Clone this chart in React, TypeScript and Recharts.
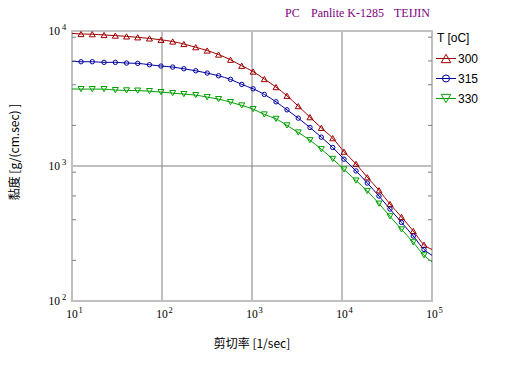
import React from 'react';
import {
  LineChart,
  Line,
  XAxis,
  YAxis,
  CartesianGrid,
  ReferenceArea,
  Label,
} from 'recharts';

// 剪切率 (1/sec) at each measured point
const shearRate = [
  12.6, 16.8, 22.7, 30.3, 40.4, 53.7, 72.6, 97.5, 131.5, 175, 237, 318, 425, 577, 769, 1030,
  1371, 1849, 2449, 3266, 4406, 5888, 7889, 10520, 14320, 19100, 25760, 34120, 45810, 61940, 81470,
];

// 黏度 g/(cm.sec)
const eta300 = [
  9500, 9470, 9340, 9245, 9120, 8980, 8812, 8604, 8357, 8008, 7583, 7167, 6692, 6124, 5527, 5004,
  4405, 3841, 3310, 2776, 2300, 1916, 1607, 1277, 1036, 825, 661, 523, 419, 330, 261,
];
const eta315 = [
  5920, 5920, 5858, 5858, 5788, 5759, 5622, 5499, 5405, 5251, 5075, 4879, 4659, 4381, 4023, 3731,
  3390, 2988, 2606, 2262, 1929, 1635, 1371, 1124, 919, 748, 599, 480, 382, 303, 241,
];
const eta330 = [
  3712, 3712, 3712, 3649, 3631, 3617, 3586, 3525, 3466, 3408, 3350, 3237, 3129, 2973, 2809, 2638,
  2409, 2235, 1997, 1771, 1553, 1331, 1128, 943, 780, 653, 526, 424, 339, 272, 218,
];

// fitted curve ends at 10 and 1e5 1/sec
const curveStart = [9600, 5950, 3720];
const curveEnd = [241, 218, 195];

const temps = ['300', '315', '330'];
const colors = ['#a00000', '#0000a0', '#00a000'];
const shapes = ['up', 'circle', 'down'];

const majorX = [10, 100, 1000, 10000, 100000];
const majorY = [100, 1000, 10000];
const minorX = [
  20, 30, 40, 50, 60, 70, 80, 90, 200, 300, 400, 500, 600, 700, 800, 900, 2000, 3000, 4000, 5000,
  6000, 7000, 8000, 9000, 20000, 30000, 40000, 50000, 60000, 70000, 80000, 90000,
];
const minorY = [200, 300, 400, 500, 600, 700, 800, 900, 2000, 3000, 4000, 5000, 6000, 7000, 8000, 9000];

const SERIF = '"Liberation Serif", "Times New Roman", serif';
const SANS = '"Liberation Sans", Arial, sans-serif';
const CJK = '"Noto Sans CJK TC", "Noto Sans CJK SC", sans-serif';

const makeCurve = (ys: number[], i: number) => [
  { x: 10, y: curveStart[i], end: true },
  ...shearRate.map((x, k) => ({ x, y: ys[k], end: false })),
  { x: 100000, y: curveEnd[i], end: true },
];

const series = [eta300, eta315, eta330].map((ys, i) => ({
  name: temps[i],
  color: colors[i],
  shape: shapes[i],
  data: makeCurve(ys, i),
}));

function Marker({ cx, cy, shape, color, size = 1 }: any) {
  if (shape === 'circle') {
    return <circle cx={cx} cy={cy} r={2.2 * size} fill="none" stroke={color} strokeWidth={1} />;
  }
  const w = 3 * size;
  const h = 2.6 * size;
  const pts =
    shape === 'up'
      ? `${cx - w},${cy + h} ${cx + w},${cy + h} ${cx},${cy - h}`
      : `${cx - w},${cy - h} ${cx + w},${cy - h} ${cx},${cy + h}`;
  return <polygon points={pts} fill="none" stroke={color} strokeWidth={1} />;
}

const XPowTick = ({ x, y, payload }: any) => {
  const e = Math.round(Math.log10(payload.value));
  return (
    <g>
      <text x={x} y={y + 16.5} textAnchor="middle" fontFamily={SERIF} fontSize={11.5} fill="#000">
        10
      </text>
      <text x={x + 6.5} y={y + 11.5} fontFamily={SERIF} fontSize={8.5} fill="#000">
        {e}
      </text>
    </g>
  );
};

const YPowTick = ({ x, y, payload }: any) => {
  const e = Math.round(Math.log10(payload.value));
  return (
    <g>
      <text x={x - 12} y={y + 3.5} textAnchor="end" fontFamily={SERIF} fontSize={11.5} fill="#000">
        10
      </text>
      <text x={x - 10} y={y - 1.5} fontFamily={SERIF} fontSize={8.5} fill="#000">
        {e}
      </text>
    </g>
  );
};

const Blank = () => <g />;

const XTitle = ({ viewBox }: any) => {
  const cx = viewBox.x + viewBox.width / 2;
  return (
    <text x={cx} y={viewBox.y + 47} textAnchor="middle" fontFamily={CJK} fontSize={12} fill="#000">
      剪切率 [1/sec]
    </text>
  );
};

const YTitle = ({ viewBox }: any) => {
  const cx = viewBox.x + 13;
  const cy = viewBox.y + viewBox.height / 2 - 14;
  return (
    <text
      x={cx}
      y={cy}
      transform={`rotate(-90 ${cx} ${cy})`}
      textAnchor="middle"
      dominantBaseline="central"
      fontFamily={CJK}
      fontSize={12}
      fill="#000"
    >
      黏度 [g/(cm.sec) ]
    </text>
  );
};

export default function App() {
  return (
    <div style={{ position: 'absolute', left: 0, top: 0, width: 515, height: 370, background: '#fff' }}>
      <LineChart width={515} height={370} margin={{ top: 31, right: 83, bottom: 0, left: 0 }}>
        <CartesianGrid stroke="#808080" strokeWidth={1} />
        <XAxis
          dataKey="x"
          type="number"
          scale="log"
          domain={[10, 100000]}
          ticks={majorX}
          allowDataOverflow
          height={69}
          tickSize={0}
          tickMargin={0}
          axisLine={false}
          tickLine={false}
          tick={<XPowTick />}
        >
          <Label content={<XTitle />} />
        </XAxis>
        <XAxis
          xAxisId="minB"
          type="number"
          scale="log"
          domain={[10, 100000]}
          ticks={minorX}
          allowDataOverflow
          orientation="bottom"
          mirror
          height={10}
          tickSize={4}
          axisLine={false}
          tickLine={{ stroke: '#808080' }}
          tick={<Blank />}
        />
        <XAxis
          xAxisId="minT"
          type="number"
          scale="log"
          domain={[10, 100000]}
          ticks={minorX}
          allowDataOverflow
          orientation="top"
          mirror
          height={10}
          tickSize={4}
          axisLine={false}
          tickLine={{ stroke: '#808080' }}
          tick={<Blank />}
        />
        <YAxis
          type="number"
          scale="log"
          domain={[100, 10000]}
          ticks={majorY}
          allowDataOverflow
          width={72}
          tickSize={0}
          tickMargin={0}
          axisLine={false}
          tickLine={false}
          tick={<YPowTick />}
        >
          <Label content={<YTitle />} />
        </YAxis>
        <YAxis
          yAxisId="minL"
          type="number"
          scale="log"
          domain={[100, 10000]}
          ticks={minorY}
          allowDataOverflow
          orientation="left"
          mirror
          width={10}
          tickSize={4}
          axisLine={false}
          tickLine={{ stroke: '#808080' }}
          tick={<Blank />}
        />
        <YAxis
          yAxisId="minR"
          type="number"
          scale="log"
          domain={[100, 10000]}
          ticks={minorY}
          allowDataOverflow
          orientation="right"
          mirror
          width={10}
          tickSize={4}
          axisLine={false}
          tickLine={{ stroke: '#808080' }}
          tick={<Blank />}
        />
        {series.map((s) => (
          <Line
            key={s.name}
            data={s.data}
            dataKey="y"
            type="monotone"
            stroke={s.color}
            strokeWidth={1}
            isAnimationActive={false}
            activeDot={false}
            dot={(p: any) =>
              p.payload.end ? (
                <g key={`${s.name}-${p.index}`} />
              ) : (
                <Marker key={`${s.name}-${p.index}`} cx={p.cx} cy={p.cy} shape={s.shape} color={s.color} />
              )
            }
          />
        ))}
        <ReferenceArea
          x1={10}
          x2={100000}
          y1={100}
          y2={10000}
          fill="none"
          fillOpacity={0}
          stroke="#c0c0c0"
          strokeWidth={2}
          ifOverflow="visible"
        />
      </LineChart>
      <svg
        width={515}
        height={370}
        style={{ position: 'absolute', left: 0, top: 0, pointerEvents: 'none' }}
      >
        <text y={17} fontFamily={SERIF} fontSize={12} fill="#800080">
          <tspan x={285}>PC</tspan>
          <tspan x={311}>Panlite K-1285</tspan>
          <tspan x={394}>TEIJIN</tspan>
        </text>
        <text x={437} y={42} fontFamily={SANS} fontSize={12} fill="#000">
          T [oC]
        </text>
        {series.map((s, i) => {
          const cy = 58.5 + i * 20;
          return (
            <g key={s.name}>
              <line x1={436} x2={456} y1={cy} y2={cy} stroke={s.color} strokeWidth={1} />
              <Marker cx={446} cy={cy} shape={s.shape} color={s.color} size={1.6} />
              <text x={458} y={cy + 4} fontFamily={SANS} fontSize={12} fill="#000">
                {s.name}
              </text>
            </g>
          );
        })}
      </svg>
    </div>
  );
}
